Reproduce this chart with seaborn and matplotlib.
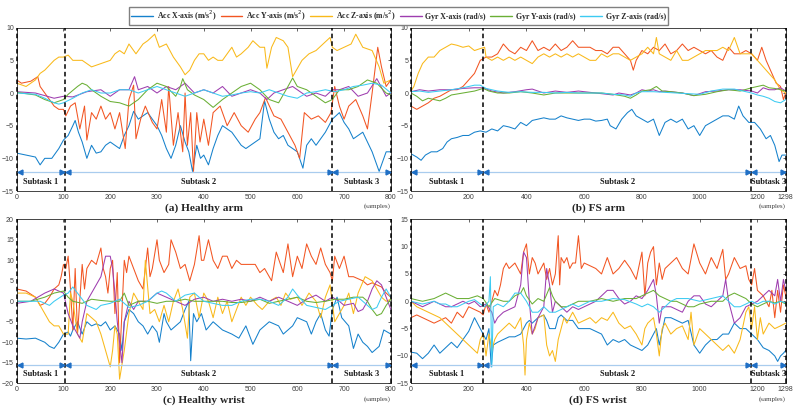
import numpy as np
import pandas as pd
import matplotlib
matplotlib.use('Agg')
import matplotlib.pyplot as plt
import seaborn as sns
from matplotlib.lines import Line2D

series_names = ['Acc X-axis (m/s$^2$)', 'Acc Y-axis (m/s$^2$)', 'Acc Z-axis (m/s$^2$)',
                'Gyr X-axis (rad/s)', 'Gyr Y-axis (rad/s)', 'Gyr Z-axis (rad/s)']
colors = ['#1581CC', '#F25522', '#F9B91A', '#9E3DAF', '#6AAF35', '#3CCBF2']

# (a) healthy arm -- (sample, value)
a_acc_x = [(0,-9.2),(20,-9.5),(40,-9.8),(50,-11),(60,-10),(75,-10),(80,-9.5),(90,-8.5),(100,-7.2),(110,-6.5),
           (120,-5),(125,-4.2),(132,-6),(140,-7.5),(150,-10),(160,-8),(170,-9.2),(180,-9),(190,-8),(200,-7.5),
           (210,-8),(220,-8.5),(230,-6.5),(240,-5),(250,-2.8),(260,-4),(270,-3.5),(280,-3),(290,-4),(300,-5),
           (310,-6.5),(320,-8.5),(330,-10),(340,-8),(350,-5),(360,-7.5),(368,-9),(376,-12),(385,-8),(393,-10),
           (400,-9.5),(410,-11),(420,-8.5),(430,-6.5),(440,-5),(450,-5.5),(460,-6),(470,-7),(480,-8),(490,-8.5),
           (500,-8),(510,-7.5),(520,-7),(530,-1.2),(540,-4),(550,-6),(560,-7),(570,-6.5),(580,-8),(590,-8.5),
           (600,-9),(612,-11.5),(620,-8),(630,-7),(640,-8),(650,-7),(660,-6),(675,-4),(690,-3),(700,-4.5),
           (710,-5.5),(720,-7),(730,-6.5),(740,-6),(750,-7.5),(760,-9),(775,-12),(785,-10),(790,-9),(800,-9)]
a_acc_y = [(0,2),(10,1.5),(30,1.8),(45,2.5),(50,1),(60,0),(70,-1),(80,-2),(90,-2.5),(100,-2.5),(105,-3.5),
           (115,-2),(125,-1.5),(135,-5.5),(145,-2),(150,-7.2),(160,-3),(170,-4),(180,-2),(190,-4),(200,-3),
           (210,-5.5),(220,-3),(232,-8.5),(240,-1),(250,1.2),(255,-7),(265,-4),(275,-2),(290,-4.5),(300,-5.5),
           (310,-1),(320,-6),(325,1),(335,-8),(345,-3),(355,-9),(360,0),(365,-8),(372,-3),(378,-12),(385,-3),
           (392,-7.5),(400,-4),(410,-8),(420,-3),(435,-2),(450,-5),(465,-3),(480,-5),(495,-6),(510,-4),(520,-3),
           (532,-0.7),(550,-3.5),(565,-4),(580,-6),(595,-8),(605,-10),(615,-3),(630,-4),(645,-3.5),(660,-4.5),
           (672,-3),(680,1),(690,-2),(700,-4),(710,-2),(725,-1),(740,-3.5),(750,-5.5),(760,0),(772,7),(780,4),
           (790,1),(800,2)]
a_acc_z = [(0,1.5),(20,1),(40,2),(50,3),(60,3.5),(80,5),(90,5.5),(100,5.5),(110,5.8),(120,5),(140,5),
           (160,4),(180,4.5),(200,5),(210,6),(220,6.5),(230,6),(240,7.5),(255,6),(270,7.5),(280,8),(295,9),
           (305,7),(320,7.5),(335,5.5),(350,4),(360,2.8),(370,3.5),(380,5),(390,6),(400,6),(410,5),(420,5.5),
           (430,5),(440,5),(450,6),(460,7),(470,5.5),(480,6),(495,7),(505,8),(520,7),(530,7),(535,3.8),(545,7),
           (555,8.5),(570,8),(580,7),(590,2.5),(610,5),(625,6),(640,6.5),(655,7.5),(670,8.5),(675,7),(685,6.5),
           (700,7),(715,7.5),(725,9),(740,7),(760,6.5),(775,4),(785,1.5),(800,2)]
a_gyr_x = [(0,0.2),(40,0),(80,-0.8),(100,-0.5),(120,-0.6),(150,0.2),(180,0.5),(200,-0.5),(220,0.5),
           (240,0.5),(252,2.5),(260,0.5),(280,1),(300,0),(320,1),(340,0.5),(360,1.5),(380,0),(400,0.5),(420,0),
           (440,1),(460,-0.5),(480,0),(500,0.5),(520,0),(535,-1),(550,0),(570,0.5),(590,1),(600,0.5),(620,-0.5),
           (640,0),(660,-0.5),(675,0.5),(690,0.5),(710,1),(730,-0.5),(750,0),(770,2.2),(790,-0.5),(800,0)]
a_gyr_y = [(0,0.1),(40,-0.3),(60,-1),(80,-1.5),(100,-1),(110,-0.2),(130,1),(140,1.5),(150,1.2),(160,0.5),
           (180,-0.5),(200,-1.3),(220,-1.5),(240,-2),(260,-1),(280,0.5),(300,1.5),(320,1),(340,-0.5),(350,1),
           (355,2.2),(365,0.5),(380,-0.3),(400,-1),(420,-2.2),(440,-1),(460,0),(480,1),(500,1.5),(520,0.5),
           (540,-1),(560,-1.5),(580,1),(590,2.3),(600,1),(620,0.5),(640,-0.5),(660,-1.5),(675,-1),(690,0.5),
           (710,0.5),(730,1),(750,2),(770,1.5),(790,0),(800,-0.3)]
a_gyr_z = [(0,0),(40,-0.2),(60,-0.8),(80,-1.5),(90,-1.7),(100,-1.5),(120,-0.8),(140,0),(160,0.5),(180,0),
           (200,0),(220,0.5),(240,0.5),(260,0),(280,0.5),(300,1),(320,0.5),(340,0),(360,-0.5),(380,0),(400,0.5),
           (420,0),(440,-0.5),(460,-0.3),(480,0),(500,0.2),(520,0),(540,0.5),(560,0),(580,-0.5),(600,-0.8),
           (620,0),(640,0.2),(660,0.5),(680,0.2),(700,0.5),(720,1),(740,1.2),(760,1.5),(780,1.2),(800,0)]

# (b) FS arm
b_acc_x = [(0,-9.3),(20,-9.8),(35,-10.3),(50,-9.5),(70,-9),(90,-9),(110,-8.5),(125,-7.5),(140,-7),(160,-6.8),
           (180,-6.5),(200,-6.5),(220,-6),(240,-5.8),(260,-6),(280,-5.5),(300,-5.8),(320,-5),(340,-5.2),(360,-5.5),
           (380,-4.5),(400,-5),(420,-4.2),(440,-4),(460,-3.8),(480,-4),(500,-4),(520,-3.5),(540,-3.8),(560,-4),
           (580,-4.2),(600,-4),(620,-4),(640,-4.3),(660,-4.2),(680,-4),(690,-5),(710,-5.5),(730,-4),(750,-3),
           (765,-2.5),(780,-3.5),(800,-4),(820,-4.5),(840,-4),(860,-6.5),(880,-4.5),(900,-4),(920,-4.5),(940,-4),
           (960,-5.5),(980,-5),(1000,-6.5),(1020,-5),(1040,-4.5),(1060,-4),(1080,-3.5),(1100,-3.5),(1120,-4),
           (1135,-2),(1150,-3.5),(1170,-4.5),(1190,-4.5),(1210,-5.5),(1230,-7),(1245,-6.5),(1260,-8),(1275,-10.5),
           (1285,-9.5),(1298,-9.5)]
b_acc_y = [(0,-2),(20,-2.5),(40,-2),(60,-1.5),(80,-0.8),(100,-0.5),(120,0),(140,0.5),(160,0.5),(180,1),
           (200,2),(220,3),(240,5),(260,5.5),(280,5.5),(300,6),(320,7.5),(340,6.5),(360,6),(380,7),(400,6.5),
           (420,8),(440,6.5),(460,7),(480,6.5),(500,7.5),(520,6.5),(540,7),(560,8),(580,7),(600,7),(620,7),
           (640,6.5),(660,6.5),(680,6),(700,7),(720,7),(740,6),(760,5),(770,3.5),(780,5),(800,6.5),(820,6),
           (840,7),(860,6.5),(880,7.5),(900,6),(920,6.5),(940,7.5),(960,6.5),(980,7),(1000,6.5),(1020,6),
           (1040,6.5),(1060,5.5),(1080,5),(1100,7),(1120,6),(1140,6),(1160,6.5),(1180,6),(1200,5),(1215,7),
           (1230,5),(1250,3),(1265,1.5),(1280,1),(1290,-1),(1298,0)]
b_acc_z = [(0,0.3),(10,1),(25,3),(40,4.5),(60,5.5),(80,5.5),(100,6.5),(120,7),(140,7.5),(160,7.3),(180,7),
           (200,7.2),(220,6.5),(240,6.8),(255,7),(260,5.5),(280,5),(300,5.5),(320,5),(340,5.5),(360,5),(380,5.5),
           (400,5),(420,4.5),(440,5.5),(460,6),(480,5.5),(500,6),(520,5.5),(540,6),(560,5.5),(580,6),(600,5.5),
           (620,5),(640,5),(660,6),(680,5.5),(700,6),(720,6),(740,5.5),(760,5),(780,5.5),(800,6),(820,7),(840,6),
           (850,8.5),(860,6),(880,5.5),(900,5),(920,6.5),(940,5),(960,5),(980,5.5),(1000,6),(1020,6.5),(1040,6.5),
           (1060,6.5),(1080,7),(1100,6.5),(1120,8.5),(1140,6),(1160,6),(1180,6),(1200,5),(1220,4),(1240,3),
           (1260,2),(1280,0.5),(1298,0)]
b_gyr_x = [(0,0.2),(30,0.5),(60,0.3),(100,0.5),(140,0.5),(180,0.7),(220,0.8),(250,0.8),(280,0.3),(320,0),
           (360,0.2),(400,0.5),(420,0.6),(460,0),(500,0.3),(540,0.1),(580,0.3),(620,0.1),(660,-0.1),(700,-0.3),
           (720,0),(760,-0.3),(780,0),(800,0.5),(820,0.3),(840,0.5),(860,0.2),(880,0.3),(900,0.2),(940,0),
           (980,-0.4),(1020,0.2),(1060,0.3),(1100,0.5),(1140,0.5),(1180,0.3),(1200,0),(1220,0.8),(1240,0.5),
           (1260,0.5),(1280,0.8),(1298,0.3)]
b_gyr_y = [(0,0),(20,-0.5),(40,-1.2),(60,-0.8),(80,-1),(100,-1.2),(120,-0.8),(140,-0.3),(180,0),(220,0.3),
           (250,0.7),(270,0.3),(300,0),(340,0),(380,0.2),(420,0),(460,-0.3),(500,0),(540,0),(580,0),(620,0),
           (660,0),(700,-0.2),(740,-0.5),(760,-0.8),(780,-0.3),(800,0.3),(830,0.5),(850,1),(870,0.3),(900,0.2),
           (940,0),(980,-0.4),(1020,-0.2),(1060,0.2),(1100,0.5),(1140,0.3),(1180,0.8),(1200,1),(1220,1.2),
           (1240,0.8),(1260,0.7),(1280,0.5),(1298,0.3)]
b_gyr_z = [(0,0.2),(30,0.3),(60,0.1),(100,0.3),(140,0.5),(180,0.8),(220,1.2),(240,1.2),(260,0.7),(300,0.3),
           (340,0.1),(380,0.2),(420,0.1),(460,0.1),(500,0),(540,0.1),(580,0),(620,0),(660,0),(700,-0.2),
           (740,-0.3),(760,-0.5),(780,0),(800,0.2),(840,0.2),(880,0.1),(920,0),(960,-0.1),(1000,-0.2),(1040,0.3),
           (1080,0.6),(1120,0.6),(1160,0.2),(1180,0),(1200,-0.3),(1220,-0.5),(1240,-0.8),(1260,-1.3),(1280,-1.5),
           (1298,-1)]

# (c) healthy wrist
c_acc_x = [(0,-9),(20,-9.2),(40,-9),(60,-10),(70,-11),(80,-11.5),(90,-10),(100,-8),(110,-7.5),(115,-8.5),
           (120,-7),(130,-5),(140,-8),(150,-5),(160,-6),(170,-5.5),(180,-6),(190,-5),(200,-7),(210,-6),(220,-8),
           (225,-12),(230,-5),(240,-2),(250,-3),(260,-5),(270,-6),(280,-8),(290,-6),(300,-7.5),(305,-10),(315,-3),
           (320,-5),(330,-7),(340,-6),(350,-5),(360,-2),(368,0),(372,-14.5),(378,-3),(385,-5),(395,-3),(405,-7),
           (420,-5),(440,-7),(460,-8),(475,-9),(490,-6),(505,-10.5),(520,-7),(540,-5),(560,-6),(570,-8),(580,-7),
           (590,-6),(600,-4),(620,-5),(630,-8),(640,-5),(650,-3),(660,-7),(668,-8.5),(675,-2),(685,1),(695,-4),
           (710,-6),(720,-11.5),(730,-8),(740,-10),(750,-11),(760,-12.5),(775,-11),(785,-7),(800,-8)]
c_acc_y = [(0,3),(20,2.5),(40,1),(50,-1),(60,-0.5),(70,1),(80,3),(90,4),(95,6),(100,9),(105,8),(110,11),
           (115,3),(120,-7),(125,8),(130,-8),(140,9),(145,3),(150,8),(160,10),(170,9),(180,13),(185,8),(190,6),
           (195,2),(200,8),(205,10),(210,-3),(215,7),(220,-15),(230,10),(235,7),(240,11),(250,8),(260,5),(270,3),
           (280,13),(285,6),(290,8),(300,15),(305,10),(315,7),(325,9),(330,15),(340,12),(350,8),(360,9),(370,5),
           (380,9),(390,16),(395,10),(400,10),(410,15),(420,10),(430,8),(440,11),(450,11),(460,8),(470,10),
           (480,9),(490,9),(500,9),(510,9),(520,7),(530,8),(545,5),(555,12),(570,7),(580,14),(590,6),(600,11),
           (610,8),(620,14),(630,11),(640,9),(650,13),(660,9),(670,7),(675,5),(680,11),(690,8),(700,11),(710,6),
           (720,6),(730,5.5),(740,5),(750,4),(760,4.5),(770,4),(780,3.5),(790,2),(800,1)]
c_acc_z = [(0,2),(20,2),(40,1),(50,-1),(60,-3),(70,-5),(80,-6),(90,-6),(100,-8),(110,-8),(115,2),(120,0),
           (130,-8),(140,-10),(150,-3),(160,-4),(170,-5),(180,-8),(190,-12),(200,-16),(205,-12),(210,-6),
           (215,-8),(220,-19),(230,-12),(240,-3),(250,2),(260,0),(270,-2),(275,10),(285,-3),(295,-2),(305,-5),
           (315,-1),(325,-5),(335,0),(345,3),(355,-2),(365,-9),(370,1),(380,2),(390,-4),(400,2),(410,0),(420,-4),
           (430,1),(440,-3),(450,0),(460,-5),(470,-2),(480,1),(490,-1),(500,1),(515,-1),(525,-2),(540,0),(555,1),
           (565,-1),(575,2),(585,0.5),(600,1),(610,-1),(625,2),(640,0),(650,-4),(660,1),(670,4),(680,-5),(690,-3),
           (700,-1),(710,2),(720,-3),(730,2),(745,6),(760,5),(770,3),(780,1),(790,0),(800,0.5)]
c_gyr_x = [(0,-0.5),(30,0),(60,2),(80,3),(100,2),(110,-3),(120,-6),(125,-7),(130,-8),(135,-9),(140,-5),
           (150,0),(160,2),(170,4),(180,6),(190,11),(200,11),(205,8),(210,2),(215,-5),(220,-10),(225,-15),(230,-5),
           (240,0),(250,-2),(260,0),(280,0),(300,2),(320,1),(340,0),(360,-1),(380,0.5),(400,1),(420,0),(440,0.5),
           (460,0),(480,0.5),(500,0),(520,1),(540,0),(560,1),(580,0),(600,-1),(620,0.5),(640,1.5),(660,0),(675,1),
           (690,0),(700,-1),(720,-0.5),(730,-2.5),(740,-2),(750,0),(760,3),(770,5),(780,4),(790,1),(800,-2)]
c_gyr_y = [(0,0),(30,0),(60,1),(80,2),(100,2.5),(110,1),(120,0),(140,-0.5),(160,0.5),(180,0.2),(200,0),
           (220,0),(230,2),(240,-1),(260,0),(280,0),(300,-0.5),(320,0),(340,0),(360,0.5),(380,0),(400,0),(420,0),
           (440,0),(460,-0.3),(480,-0.3),(500,0),(520,0.5),(540,-0.5),(560,0),(580,0.5),(600,1),(620,0),
           (640,-0.3),(660,0),(680,0.5),(700,0.5),(720,1),(740,1),(750,0),(760,-2),(770,-3.5),(780,-3),(790,-1),
           (800,0.5)]
c_gyr_z = [(0,0),(30,0),(50,0),(60,-0.5),(70,-1),(80,0),(100,1.5),(110,2),(120,3.5),(130,2),(140,0.5),
           (150,-1),(160,-1.5),(170,-2),(180,-1),(200,-0.5),(220,0.5),(240,-1.5),(260,-1),(280,0),(300,2),
           (310,2.5),(320,2),(340,0),(360,1.5),(380,2),(400,0),(420,-0.5),(440,-1),(460,-1),(480,0),(500,0.5),
           (520,0.5),(540,0),(560,-1),(580,1),(590,3),(600,1.5),(620,-1),(640,-1.5),(660,-2),(675,-1),(690,0),
           (710,0.5),(730,1),(750,-1),(760,-2),(770,-1.5),(780,1),(790,3),(800,1)]

# (d) FS wrist
d_acc_x = [(0,-9.3),(20,-9.5),(40,-10.5),(60,-9.5),(80,-8),(100,-9.5),(120,-8.5),(140,-7.5),(160,-8.5),
           (180,-7),(200,-5.5),(220,-3),(235,-4.5),(250,-6),(260,-7),(270,-5),(278,-12),(285,-8),(300,-7.5),
           (320,-7),(340,-6.5),(360,-6.5),(380,-6),(390,-5),(400,-4),(410,-3.5),(420,-4),(440,-3),(460,-2.5),
           (470,-3.5),(480,-5),(500,-5),(510,-3),(520,-2.5),(540,-3.5),(560,-3.5),(580,-5),(600,-5),(620,-5),
           (640,-5.5),(660,-6),(680,-8),(700,-7),(720,-7.5),(740,-7),(760,-8),(780,-8.5),(800,-9),(820,-8),
           (840,-6),(850,-5),(860,-8),(880,-3),(900,-3),(920,-3.5),(940,-4),(960,-3.5),(980,-8),(1000,-9.5),
           (1020,-8),(1040,-7),(1060,-7),(1080,-6),(1100,-6),(1120,-4),(1140,-5),(1160,-5),(1180,-6),(1200,-7),
           (1220,-8.5),(1240,-9),(1260,-10),(1270,-11),(1280,-10),(1290,-9.5),(1298,-9)]
d_acc_y = [(0,-3),(20,-2.5),(40,-3),(60,-3.5),(80,-4),(100,-3.5),(120,-3),(140,-4),(160,-2),(180,-3),
           (200,-1),(220,-1.5),(240,-2),(250,-2.5),(260,-0.5),(270,-2),(280,0),(290,2),(300,1),(310,3),(320,6),
           (330,7),(340,6),(360,7),(380,5),(390,9),(400,10.5),(410,5),(420,8),(430,7),(440,5),(450,6),(460,7),
           (470,4),(480,6),(490,3),(500,5),(510,12),(515,3),(520,8),(530,7),(540,8),(550,6),(560,7),(570,7),
           (580,12),(590,6),(600,7),(620,6.5),(640,6),(660,5),(680,8),(700,5),(720,6),(740,7.5),(760,6),(780,4),
           (800,9),(810,1),(820,7),(830,9),(840,10),(850,3),(860,7),(870,4),(880,6),(900,7),(920,8),(940,6),
           (960,5),(980,10.5),(1000,7),(1020,5),(1040,8),(1060,6),(1080,9.5),(1090,4),(1100,5),(1120,8),(1140,6),
           (1160,6.5),(1170,4),(1180,3),(1190,6),(1200,2),(1220,1),(1240,-1),(1250,2),(1260,-3),(1270,2),
           (1280,-2),(1290,3),(1298,1)]
d_acc_z = [(0,0),(20,-1),(40,-1.5),(60,-2),(80,-2.5),(100,-3),(120,-4),(140,-5),(160,-6),(180,-7),(200,-8),
           (220,-9),(230,-9.5),(240,-7),(250,-6),(260,-10),(270,-6),(280,-9),(290,-7),(300,-6),(320,-5),(340,-4),
           (360,-5),(380,-3),(390,-8),(395,-13.5),(400,-7),(410,-4),(420,-6),(430,-5),(440,-3),(460,-2.5),
           (470,-8),(480,-10),(490,-9),(500,-11),(510,-7),(520,-5),(530,-3),(540,-4),(560,-2),(580,-4),(600,-3.5),
           (620,-3),(640,-4),(660,-3),(680,-3.5),(700,-2),(720,-4),(740,-5),(760,-4.5),(780,-6),(800,-8),(810,-5),
           (820,-4),(840,-3),(850,-6),(860,-10),(870,-5),(880,-4),(900,-6),(920,-5),(940,-4.5),(960,-7),(970,-2),
           (980,-8),(1000,-5),(1020,-6),(1040,-7),(1060,-8),(1080,-9),(1100,-8),(1120,-9.5),(1140,-7),(1160,-2),
           (1170,-1),(1180,-5),(1190,-1),(1200,-7),(1210,-3),(1220,-6),(1240,-4),(1260,-5),(1280,-4.5),(1298,-4)]
d_gyr_x = [(0,0),(40,-1),(80,0),(100,-0.5),(120,-1),(140,-1),(160,-0.5),(180,0),(200,-0.5),(220,0),(240,-1),
           (260,-0.5),(280,-2),(290,-4),(300,-3),(320,-2),(340,-1.5),(360,-1),(380,3),(390,9),(400,8),(410,0),
           (420,-6),(440,-3),(460,-1),(470,6),(480,3),(490,-2),(500,0),(520,-1),(540,-2),(560,-1),(580,-1.5),
           (600,-1),(620,-0.5),(640,0),(660,1),(680,2),(700,2),(720,0.5),(740,-0.5),(760,0),(780,1),(800,0.5),
           (820,2),(840,4),(850,1),(860,-4),(870,-1),(880,-1),(900,-1),(920,-1.5),(940,-2),(960,0),(980,1),
           (1000,1),(1020,-0.5),(1040,-1),(1060,0),(1080,1),(1090,4),(1100,0),(1120,-4),(1140,-3),(1160,-1),
           (1180,-0.5),(1200,0),(1220,1),(1240,2),(1260,1),(1270,4),(1280,0),(1290,4),(1298,2)]
d_gyr_y = [(0,0.5),(40,0),(80,0.5),(120,1.5),(140,1),(160,0.5),(200,0.5),(230,1),(250,0.5),(270,-1),
           (290,0.5),(320,0),(340,0),(360,1),(380,1.5),(390,2.5),(400,1),(420,-0.5),(440,0.5),(460,0),(480,2.5),
           (490,1),(500,0),(520,-1),(540,-1),(560,-0.5),(580,0),(600,0),(620,0),(660,0.5),(700,0),(740,0.5),
           (780,0.5),(800,1),(820,1.5),(840,2),(860,1),(880,0.5),(900,0),(920,0),(940,-0.5),(960,-1),(980,-1),
           (1000,-0.5),(1040,0),(1080,0),(1100,1),(1120,1.5),(1140,1),(1160,0.5),(1180,-0.5),(1200,-1),
           (1220,-0.5),(1240,0),(1260,-0.3),(1280,0),(1298,-0.5)]
d_gyr_z = [(0,0),(40,-0.5),(80,0),(100,-0.5),(120,-0.5),(140,-1),(160,-1),(180,-0.5),(200,0),(220,0.3),
           (240,-0.5),(255,-1),(270,0),(275,4.5),(280,-12),(285,-1),(300,-0.5),(320,-1),(340,0),(360,1.5),
           (380,1.5),(400,0),(420,-2),(440,-2),(460,-1),(480,-2),(500,-2),(520,-1.5),(540,-1),(560,-0.5),
           (580,-1),(600,-0.5),(620,0),(660,0),(700,0.5),(740,0.3),(780,-0.5),(800,-1),(820,-0.5),(840,-1),
           (860,-2),(880,-1),(900,0),(920,0.5),(960,0.5),(1000,0),(1040,0.5),(1080,1),(1100,0),(1120,-1),
           (1140,-1),(1160,-0.5),(1180,0),(1200,-0.5),(1220,0),(1240,0),(1260,-0.5),(1280,0),(1298,-0.3)]

healthy_bounds = [0, 103, 675, 800]
fs_bounds = [0, 250, 1178, 1298]
healthy_xticks = [0, 100, 200, 300, 400, 500, 600, 700, 800]
fs_xticks = [0, 200, 400, 600, 800, 1000, 1200, 1298]
subtask_labels = ['Subtask 1', 'Subtask 2', 'Subtask 3']

panels = [
    dict(title='(a) Healthy arm', data=[a_acc_x, a_acc_y, a_acc_z, a_gyr_x, a_gyr_y, a_gyr_z],
         bounds=healthy_bounds, xticks=healthy_xticks, ylim=(-15, 10), arrow_y=-12.1, text_y=-13.6,
         pos=[0.021, 0.5375, 0.470, 0.3955]),
    dict(title='(b) FS arm', data=[b_acc_x, b_acc_y, b_acc_z, b_gyr_x, b_gyr_y, b_gyr_z],
         bounds=fs_bounds, xticks=fs_xticks, ylim=(-15, 10), arrow_y=-12.1, text_y=-13.6,
         pos=[0.5163, 0.5375, 0.4708, 0.3955]),
    dict(title='(c) Healthy wrist', data=[c_acc_x, c_acc_y, c_acc_z, c_gyr_x, c_gyr_y, c_gyr_z],
         bounds=healthy_bounds, xticks=healthy_xticks, ylim=(-20, 20), arrow_y=-15.5, text_y=-17.8,
         pos=[0.021, 0.072, 0.470, 0.397]),
    dict(title='(d) FS wrist', data=[d_acc_x, d_acc_y, d_acc_z, d_gyr_x, d_gyr_y, d_gyr_z],
         bounds=fs_bounds, xticks=fs_xticks, ylim=(-15, 15), arrow_y=-11.6, text_y=-13.3,
         pos=[0.5163, 0.072, 0.4708, 0.397]),
]

sns.set_theme(style='white')
plt.rcParams['font.family'] = ['Liberation Sans', 'DejaVu Sans']

fig = plt.figure(figsize=(7.96, 4.13), dpi=100)
serif = ['Liberation Serif', 'DejaVu Serif']

for p in panels:
    ax = fig.add_axes(p['pos'])
    rows = []
    for name, pts in zip(series_names, p['data']):
        for s, v in pts:
            rows.append((name, s, v))
    df = pd.DataFrame(rows, columns=['series', 'sample', 'value'])
    sns.lineplot(data=df, x='sample', y='value', hue='series', hue_order=series_names,
                 palette=colors, estimator=None, legend=False, linewidth=0.75, ax=ax)

    xmax = p['bounds'][-1]
    ax.set_xlim(0, xmax)
    ax.set_ylim(*p['ylim'])
    ax.set_xticks(p['xticks'])
    ax.set_yticks(np.arange(p['ylim'][0], p['ylim'][1] + 1, 5))
    ax.set_xlabel('')
    ax.set_ylabel('')
    ax.tick_params(direction='in', top=True, right=True, length=2.5, width=0.5,
                   labelsize=5, labelcolor='#404040', color='#262626', pad=2)
    for sp in ax.spines.values():
        sp.set_linewidth(0.6)
        sp.set_color('#262626')

    # subtask dividers and arrows
    off = 0.0075 * xmax
    b = p['bounds']
    for x in b:
        ax.axvline(x, color='black', linestyle=(0, (3, 2)), linewidth=1.1, clip_on=False, zorder=5)
    for i in range(len(b) - 1):
        ax.plot([b[i], b[i + 1]], [p['arrow_y']] * 2, color='#A9CCEE', linewidth=0.9, zorder=4)
        ax.plot([b[i] + off], [p['arrow_y']], marker='<', color='#1F6FC5', markersize=3.5,
                linestyle='none', zorder=6)
        ax.plot([b[i + 1] - off], [p['arrow_y']], marker='>', color='#1F6FC5', markersize=3.5,
                linestyle='none', zorder=6)
        ax.text((b[i] + b[i + 1]) / 2, p['text_y'], subtask_labels[i], ha='center', va='center',
                fontsize=6, fontweight='bold', family=serif, color='#1a1a1a')

    ax.text(0.5, -0.105, p['title'], transform=ax.transAxes, ha='center', va='center',
            fontsize=8.2, fontweight='bold', family=serif)
    ax.text(1.0, -0.095, '(samples)', transform=ax.transAxes, ha='right', va='center',
            fontsize=5, family=serif, color='#404040')

handles = [Line2D([0], [0], color=c, linewidth=1) for c in colors]
fig.legend(handles, series_names, loc='upper center', bbox_to_anchor=(0.5005, 0.993), ncol=6,
           frameon=True, fancybox=False, edgecolor='#808080', framealpha=1, borderpad=0.25,
           handlelength=2.8, handletextpad=0.5, columnspacing=0.55,
           prop={'family': serif, 'weight': 'bold', 'size': 5.6})

fig.savefig('out.png', dpi=100)
